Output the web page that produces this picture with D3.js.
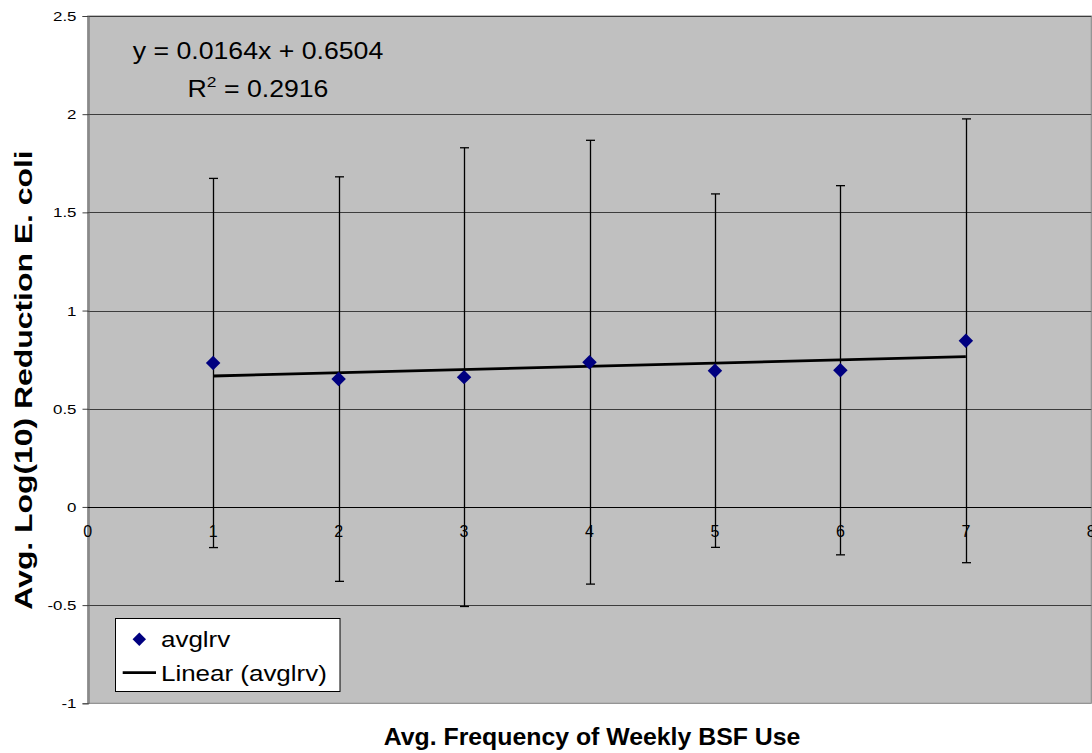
<!DOCTYPE html>
<html>
<head>
<meta charset="utf-8">
<script src="https://cdn.jsdelivr.net/npm/d3@7"></script>
<style>
  html, body { margin: 0; padding: 0; background: #ffffff; }
  svg { display: block; font-family: Arial, "Liberation Sans", sans-serif; }
</style>
</head>
<body>
<svg id="chart" width="1092" height="753"></svg>
<script>
// Weekly BSF use frequency vs. average log10 E. coli reduction
const freq = [1, 2, 3, 4, 5, 6, 7];
const avglrv = [0.733, 0.651, 0.661, 0.737, 0.694, 0.696, 0.846];
const errAmt = [0.940, 1.030, 1.168, 1.130, 0.900, 0.940, 1.130];

// Linear trendline coefficients
const slope = 0.0164;
const intercept = 0.6504;
const rSquared = 0.2916;

const xTicks = [0, 1, 2, 3, 4, 5, 6, 7, 8];
const yTicks = [-1, -0.5, 0, 0.5, 1, 1.5, 2, 2.5];

const svg = d3.select("#chart");
const plot = { left: 87.7, right: 1091.3, top: 16, bottom: 703.3 };

const x = d3.scaleLinear().domain([0, 8]).range([plot.left, plot.right]);
const y = d3.scaleLinear().domain([-1, 2.5]).range([plot.bottom, plot.top]);

// plot area background
svg.append("rect")
  .attr("x", plot.left).attr("y", plot.top)
  .attr("width", plot.right - plot.left).attr("height", plot.bottom - plot.top)
  .attr("fill", "#c0c0c0")
  .attr("stroke", "#808080").attr("stroke-width", 1);

// horizontal gridlines
svg.append("g")
  .selectAll("line")
  .data(yTicks.filter(v => v !== 0 && v !== -1))
  .join("line")
  .attr("x1", plot.left).attr("x2", plot.right)
  .attr("y1", d => Math.round(y(d)) + 0.5).attr("y2", d => Math.round(y(d)) + 0.5)
  .attr("stroke", "#3c3c3c").attr("stroke-width", 1);

// y axis
const yAxis = d3.axisLeft(y).tickValues(yTicks).tickSize(6);
const gy = svg.append("g")
  .attr("transform", `translate(${Math.round(plot.left) + 0.5},0)`)
  .call(yAxis);
gy.select(".domain").attr("stroke", "#606060");
gy.selectAll(".tick line").attr("stroke", "#404040");
gy.selectAll(".tick text").remove();
gy.selectAll(".tick").append("text")
  .attr("transform", "translate(-12,4.5) scale(1.3,1)")
  .attr("text-anchor", "end")
  .attr("fill", "#000")
  .style("font-size", "13px")
  .style("font-family", "Arial, 'Liberation Sans', sans-serif")
  .text(d => String(d));

// x axis at zero
svg.append("line")
  .attr("x1", plot.left).attr("x2", plot.right)
  .attr("y1", Math.round(y(0)) + 0.5).attr("y2", Math.round(y(0)) + 0.5)
  .attr("stroke", "#000").attr("stroke-width", 1);

svg.append("g")
  .selectAll("text")
  .data(xTicks)
  .join("text")
  .attr("x", d => x(d))
  .attr("y", y(0) + 30.5)
  .attr("text-anchor", "middle")
  .style("font-size", "16px")
  .attr("fill", "#000")
  .text(d => d);

// error bars
const capW = 4.5;
const eb = svg.append("g").attr("stroke", "#000").attr("stroke-width", 1.3);
freq.forEach((f, i) => {
  const cx = Math.round(x(f)) + 0.5;
  const hi = y(avglrv[i] + errAmt[i]);
  const lo = y(avglrv[i] - errAmt[i]);
  eb.append("line").attr("x1", cx).attr("x2", cx).attr("y1", hi).attr("y2", lo);
  eb.append("line").attr("x1", cx - capW).attr("x2", cx + capW).attr("y1", hi).attr("y2", hi);
  eb.append("line").attr("x1", cx - capW).attr("x2", cx + capW).attr("y1", lo).attr("y2", lo);
});

// trendline
const xMin = d3.min(freq), xMax = d3.max(freq);
svg.append("line")
  .attr("x1", x(xMin)).attr("y1", y(slope * xMin + intercept))
  .attr("x2", x(xMax)).attr("y2", y(slope * xMax + intercept))
  .attr("stroke", "#000").attr("stroke-width", 2.8);

// data markers (diamonds)
const diamond = d3.symbol().type(d3.symbolSquare).size(105);
svg.append("g")
  .selectAll("path")
  .data(freq.map((f, i) => [f, avglrv[i]]))
  .join("path")
  .attr("d", diamond)
  .attr("transform", d => `translate(${x(d[0])},${y(d[1])}) rotate(45)`)
  .attr("fill", "#000080");

// regression equation label
const eq = svg.append("g").attr("fill", "#000");
eq.append("text")
  .attr("transform", "translate(258,59) scale(1.16,1)")
  .attr("text-anchor", "middle")
  .style("font-size", "23px")
  .text(`y = ${slope}x + ${intercept}`);
const r2 = eq.append("text")
  .attr("transform", "translate(258,96.5) scale(1.16,1)")
  .attr("text-anchor", "middle")
  .style("font-size", "23px");
r2.append("tspan").text("R");
r2.append("tspan").attr("dy", -10).style("font-size", "15px").text("2");
r2.append("tspan").attr("dy", 10).text(` = ${rSquared}`);

// legend
const lg = svg.append("g");
lg.append("rect")
  .attr("x", 115.5).attr("y", 618.5).attr("width", 224.5).attr("height", 73)
  .attr("fill", "#fff").attr("stroke", "#000").attr("stroke-width", 1);
lg.append("path")
  .attr("d", d3.symbol().type(d3.symbolSquare).size(90))
  .attr("transform", "translate(139.3,639.3) rotate(45)")
  .attr("fill", "#000080");
lg.append("text")
  .attr("transform", "translate(161,647) scale(1.18,1)")
  .style("font-size", "22px")
  .text("avglrv");
lg.append("line")
  .attr("x1", 122.7).attr("x2", 156).attr("y1", 672.7).attr("y2", 672.7)
  .attr("stroke", "#000").attr("stroke-width", 2.8);
lg.append("text")
  .attr("transform", "translate(161,681) scale(1.18,1)")
  .style("font-size", "22px")
  .text("Linear (avglrv)");

// axis titles
svg.append("text")
  .attr("transform", "translate(592,745) scale(1.08,1)")
  .attr("text-anchor", "middle")
  .style("font-size", "23px")
  .style("font-weight", "bold")
  .text("Avg. Frequency of Weekly BSF Use");

svg.append("text")
  .attr("transform", "translate(32,380) rotate(-90) scale(1.45,1.1)")
  .attr("text-anchor", "middle")
  .style("font-size", "22px")
  .style("font-weight", "bold")
  .text("Avg. Log(10) Reduction E. coli");
</script>
</body>
</html>
